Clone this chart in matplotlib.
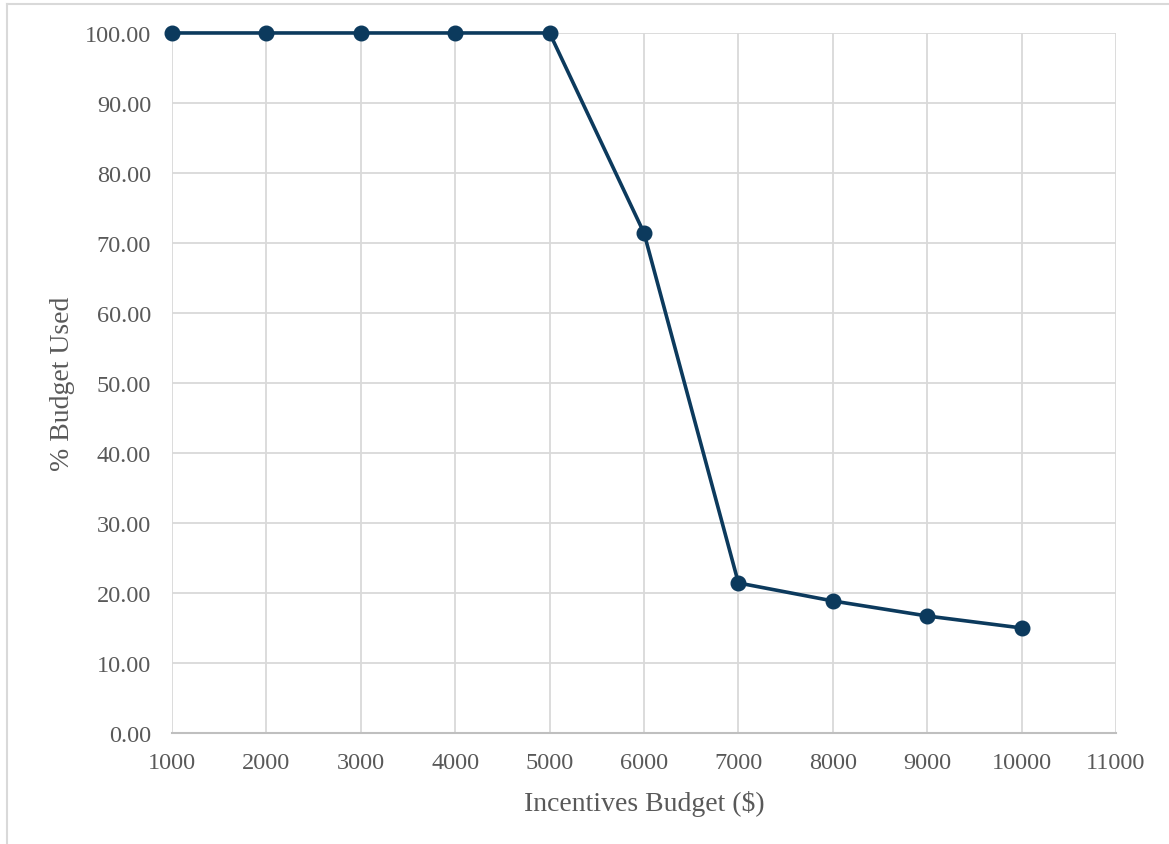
"""Доля использованного бюджета в зависимости от бюджета стимулов."""

import matplotlib

matplotlib.use("Agg")
import matplotlib.pyplot as plt
from matplotlib.lines import Line2D
import numpy as np


BUDGETS = [1000, 2000, 3000, 4000, 5000, 6000, 7000, 8000, 9000, 10000]
PERCENT_USED = [100.0, 100.0, 100.0, 100.0, 100.0, 71.43, 21.43, 18.86, 16.71, 15.0]
X_TICKS = np.arange(1000, 11001, 1000)
Y_TICKS = np.arange(0, 101, 10)

NAVY = "#0C3A5D"
GRID = "#D9D9D9"
AXIS = "#BFBFBF"
TEXT = "#595959"
FONT = ["Liberation Serif", "DejaVu Serif"]


def main() -> None:
    plt.rcParams["font.family"] = FONT

    figure = plt.figure(figsize=(11.69, 8.45), dpi=100)
    axis = figure.add_axes([0.1471, 0.1314, 0.8076, 0.8284])

    axis.plot(
        BUDGETS,
        PERCENT_USED,
        color=NAVY,
        linewidth=2.6,
        marker="o",
        markersize=10.5,
        clip_on=False,
        zorder=3,
    )

    axis.set_xlim(1000, 11000)
    axis.set_ylim(0, 100)
    axis.set_xticks(X_TICKS)
    axis.set_yticks(Y_TICKS)
    axis.set_yticklabels([f"{v:.2f}" for v in Y_TICKS])
    axis.tick_params(length=0, labelsize=17.5, labelcolor=TEXT)
    axis.tick_params(axis="x", pad=14)
    axis.tick_params(axis="y", pad=15)

    axis.grid(True, color=GRID, linewidth=1.3)
    axis.set_axisbelow(True)
    for side in ("top", "right", "left"):
        axis.spines[side].set_visible(False)
    axis.spines["bottom"].set_color(AXIS)
    axis.spines["bottom"].set_linewidth(1.5)

    axis.set_xlabel("Incentives Budget ($)", fontsize=20, color=TEXT, labelpad=12)
    axis.set_ylabel("% Budget Used", fontsize=20, color=TEXT, labelpad=7)

    # рамка области диаграммы, как в Excel
    figure.add_artist(Line2D([7 / 1169, 1], [1 - 5 / 845, 1 - 5 / 845],
                             color=GRID, linewidth=1.5, transform=figure.transFigure))
    figure.add_artist(Line2D([7 / 1169, 7 / 1169], [0, 1 - 5 / 845],
                             color=GRID, linewidth=1.5, transform=figure.transFigure))

    figure.savefig("out.png", dpi=100)
    plt.close(figure)


if __name__ == "__main__":
    main()
